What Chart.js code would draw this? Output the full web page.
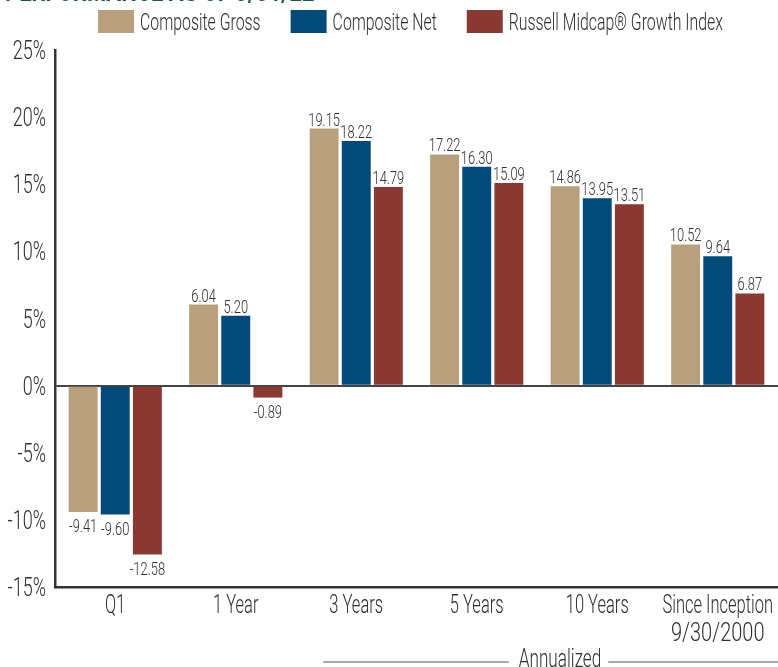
<!DOCTYPE html>
<html>
<head>
<meta charset="utf-8">
<script src="https://cdn.jsdelivr.net/npm/chart.js@4"></script>
<style>
  html, body { margin: 0; padding: 0; background: #fff; overflow: hidden; }
  #wrap { position: relative; width: 778px; height: 667px; overflow: hidden; }
  #title { position: absolute; left: 5px; top: -24px; font-family: Roboto, "Liberation Sans", sans-serif; font-weight: bold; font-size: 30px; line-height: 30px; color: #1b5a3e; white-space: nowrap; transform-origin: 0 0; }
  canvas { position: absolute; left: 0; top: 0; }
</style>
</head>
<body>
<div id="wrap">
  <canvas id="c" width="778" height="667"></canvas>
  <div id="title">PERFORMANCE AS OF 3/31/22</div>
</div>
<script>
const categories = [["Q1"], ["1 Year"], ["3 Years"], ["5 Years"], ["10 Years"], ["Since Inception", "9/30/2000"]];
const compositeGross = [-9.41, 6.04, 19.15, 17.22, 14.86, 10.52];
const compositeNet = [-9.60, 5.20, 18.22, 16.30, 13.95, 9.64];
const russellMidcapGrowth = [-12.58, -0.89, 14.79, 15.09, 13.51, 6.87];
const seriesNames = ["Composite Gross", "Composite Net", "Russell Midcap\u00AE Growth Index"];
const seriesColors = ['#b8a07e', '#03497a', '#8a3832'];
const yTicks = [-15, -10, -5, 0, 5, 10, 15, 20, 25];
const annualizedLabel = "Annualized";

// condense the title to its width in the original
(function () {
  const t = document.getElementById('title');
  t.style.transform = 'scaleX(' + (310 / t.offsetWidth) + ')';
})();

const FONT = 'Roboto, "Liberation Sans", sans-serif';
const WEIGHT = 300;
const TEXT = '#2e2e2e';
const SX_TEXT = 0.66;
const SX_NUM = 0.72;

function drawText(ctx, s, x, y, size, align, sx) {
  ctx.save();
  ctx.font = WEIGHT + ' ' + size + 'px ' + FONT;
  const w = ctx.measureText(s).width * sx;
  let x0 = x;
  if (align === 'center') x0 = x - w / 2;
  else if (align === 'right') x0 = x - w;
  ctx.translate(x0, y);
  ctx.scale(sx, 1);
  ctx.textAlign = 'left';
  ctx.textBaseline = 'alphabetic';
  ctx.fillStyle = TEXT;
  ctx.fillText(s, 0, 0);
  ctx.restore();
  return w;
}
function textWidth(ctx, s, size, sx) {
  ctx.save();
  ctx.font = WEIGHT + ' ' + size + 'px ' + FONT;
  const w = ctx.measureText(s).width * sx;
  ctx.restore();
  return w;
}

const texts = {
  id: 'texts',
  afterDraw(chart) {
    const ctx = chart.ctx;
    const xs = chart.scales.x, ys = chart.scales.y;
    const area = chart.chartArea;

    // legend
    const items = chart.data.datasets.map(d => ({ label: d.label, color: d.backgroundColor, w: textWidth(ctx, d.label, 24, SX_TEXT) }));
    const boxW = 36, boxH = 23, gapIn = 6, gapOut = 30;
    const total = items.reduce((a, it) => a + boxW + gapIn + it.w, 0) + gapOut * (items.length - 1);
    let lx = (area.left + area.right) / 2 - total / 2 - 6;
    items.forEach(it => {
      ctx.fillStyle = it.color;
      ctx.fillRect(lx, 10, boxW, boxH);
      drawText(ctx, it.label, lx + boxW + gapIn, 30, 24, 'left', SX_TEXT);
      lx += boxW + gapIn + it.w + gapOut;
    });

    // y tick labels
    yTicks.forEach(v => {
      drawText(ctx, v + '%', area.left - 9, ys.getPixelForValue(v) + 9, 25, 'right', SX_NUM);
    });

    // x category labels
    categories.forEach((lines, i) => {
      const cx = xs.getPixelForValue(i);
      lines.forEach((ln, k) => {
        const numeric = /^[0-9\/]+$/.test(ln);
        drawText(ctx, ln, cx, 613 + k * 28, 25, 'center', numeric ? 0.8 : SX_TEXT);
      });
    });

    // value labels
    chart.data.datasets.forEach((ds, i) => {
      chart.getDatasetMeta(i).data.forEach((bar, j) => {
        const v = ds.data[j];
        const s = v.toFixed(2);
        if (v >= 0) drawText(ctx, s, bar.x, bar.y - 3, 19, 'center', 0.68);
        else drawText(ctx, s, bar.x, bar.y + 20, 19, 'center', 0.68);
      });
    });

    // Annualized bracket
    const left = xs.getPixelForValue(2) - 33;
    const right = chart.width;
    const y = 662;
    const w = textWidth(ctx, annualizedLabel, 26, SX_TEXT);
    const cx = 560;
    drawText(ctx, annualizedLabel, cx, 667, 26, 'center', SX_TEXT);
    ctx.save();
    ctx.strokeStyle = '#555';
    ctx.lineWidth = 1.2;
    ctx.beginPath();
    ctx.moveTo(left, y); ctx.lineTo(cx - w / 2 - 10, y);
    ctx.moveTo(cx + w / 2 + 7, y); ctx.lineTo(right, y);
    ctx.stroke();
    ctx.restore();
  }
};

new Chart(document.getElementById('c'), {
  type: 'bar',
  data: {
    labels: categories.map(l => l.join(' ')),
    datasets: seriesNames.map((n, i) => ({
      label: n,
      data: [compositeGross, compositeNet, russellMidcapGrowth][i],
      backgroundColor: seriesColors[i]
    }))
  },
  options: {
    responsive: false,
    animation: false,
    layout: { padding: { left: 0, right: 0, top: 50, bottom: 0 } },
    datasets: { bar: { categoryPercentage: 0.8, barPercentage: 0.9 } },
    plugins: { legend: { display: false }, tooltip: { enabled: false } },
    scales: {
      x: {
        grid: { display: false },
        border: { display: true, color: '#333', width: 2.5 },
        ticks: { display: false },
        afterFit(s) { s.height = 80; s.paddingLeft = 0; s.paddingRight = 0; }
      },
      y: {
        min: yTicks[0],
        max: yTicks[yTicks.length - 1],
        afterBuildTicks(s) { s.ticks = yTicks.map(v => ({ value: v })); },
        grid: {
          drawTicks: false,
          color: c => (c.tick && c.tick.value === 0) ? '#444' : 'rgba(0,0,0,0)',
          lineWidth: 2
        },
        border: { display: true, color: '#333', width: 2.5 },
        ticks: { display: false },
        afterFit(s) { s.width = 55; }
      }
    }
  },
  plugins: [texts]
});
</script>
</body>
</html>
